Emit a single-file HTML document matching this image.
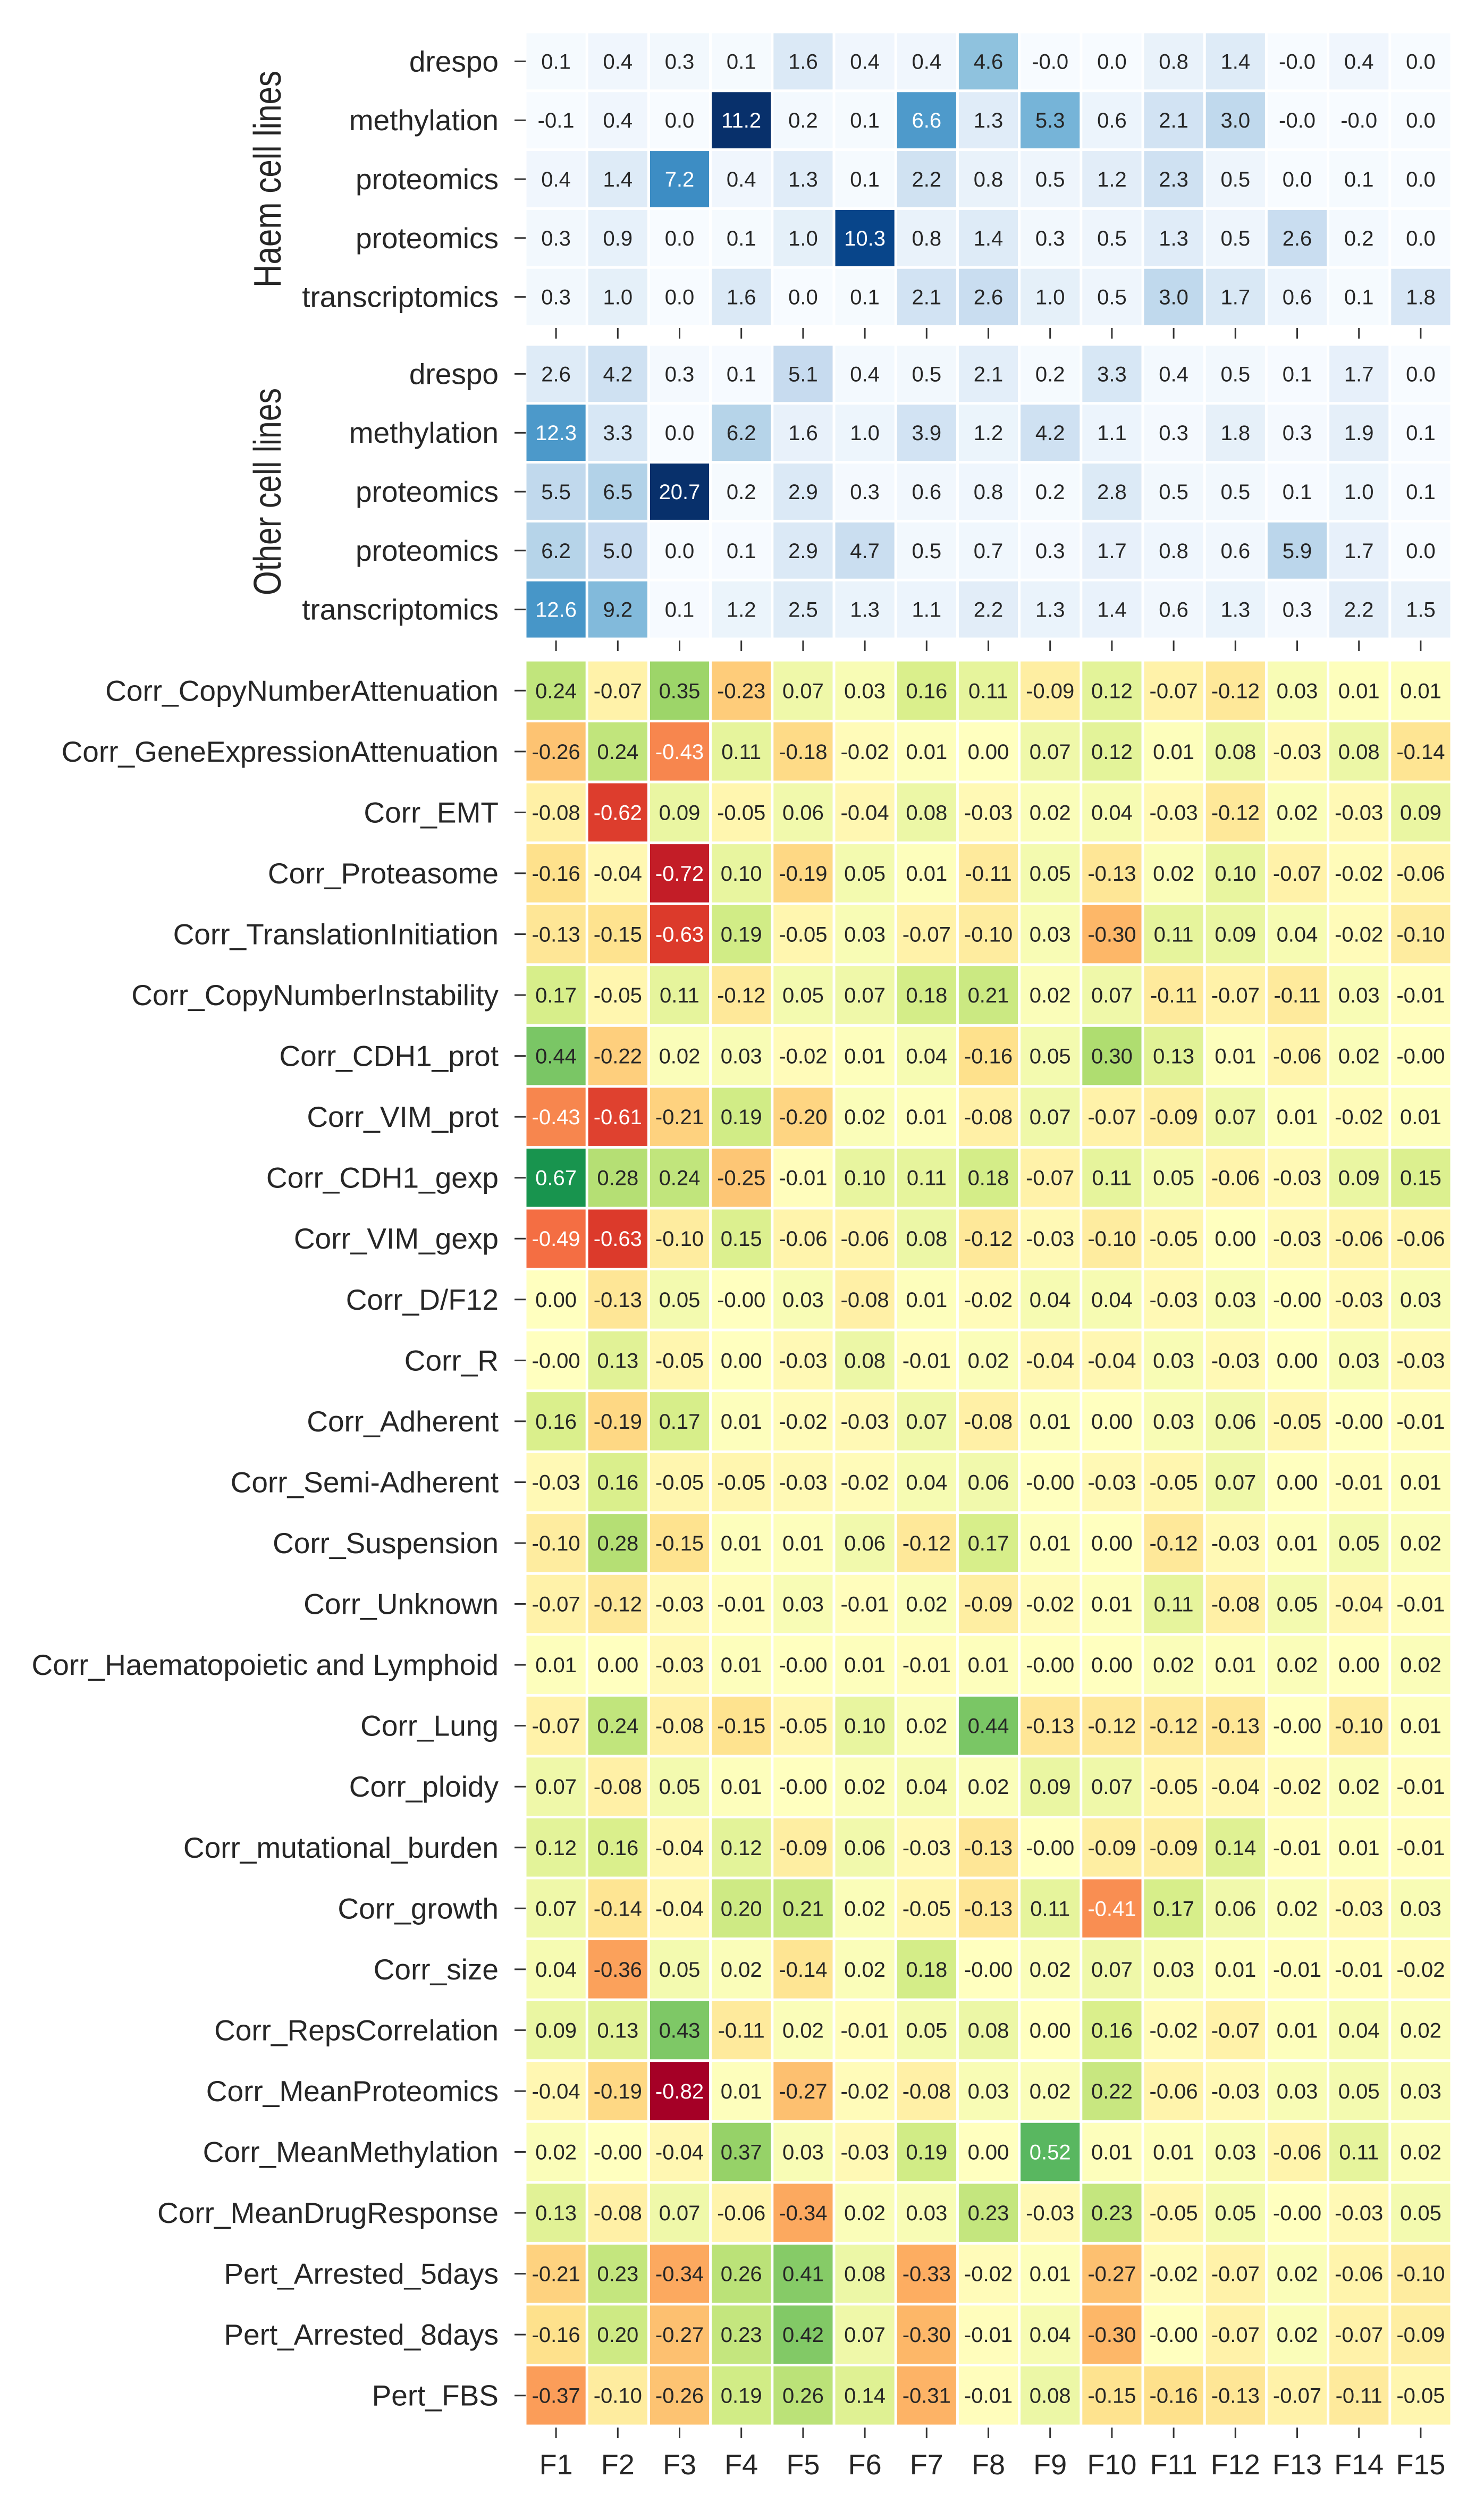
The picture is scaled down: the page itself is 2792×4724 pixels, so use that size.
<!DOCTYPE html>
<html><head><meta charset="utf-8">
<style>
html,body{margin:0;padding:0;background:#fff;}
svg{display:block;font-family:"Liberation Sans",Arial,sans-serif;}
</style></head>
<body>
<svg id="chart" width="2792" height="4724" viewBox="0 0 2792 4724" xmlns="http://www.w3.org/2000/svg">
<rect width="2792" height="4724" fill="#fff"/>
<text transform="translate(528,337) rotate(-90)" text-anchor="middle" font-size="72" fill="#262626" textLength="408" lengthAdjust="spacingAndGlyphs">Haem cell lines</text>
<text transform="translate(528,925) rotate(-90)" text-anchor="middle" font-size="72" fill="#262626" textLength="390" lengthAdjust="spacingAndGlyphs">Other cell lines</text>
<g id="g"></g>
</svg>
<script>
const factors = ["F1","F2","F3","F4","F5","F6","F7","F8","F9","F10","F11","F12","F13","F14","F15"];
const omicsRows = ["drespo","methylation","proteomics","proteomics","transcriptomics"];
const haemValues = [
[0.1,0.4,0.3,0.1,1.6,0.4,0.4,4.6,-0.01,0.0,0.8,1.4,-0.01,0.4,0.0],
[-0.1,0.4,0.0,11.2,0.2,0.1,6.6,1.3,5.3,0.6,2.1,3.0,-0.01,-0.01,0.0],
[0.4,1.4,7.2,0.4,1.3,0.1,2.2,0.8,0.5,1.2,2.3,0.5,0.0,0.1,0.0],
[0.3,0.9,0.0,0.1,1.0,10.3,0.8,1.4,0.3,0.5,1.3,0.5,2.6,0.2,0.0],
[0.3,1.0,0.0,1.6,0.0,0.1,2.1,2.6,1.0,0.5,3.0,1.7,0.6,0.1,1.8]];
const otherValues = [
[2.6,4.2,0.3,0.1,5.1,0.4,0.5,2.1,0.2,3.3,0.4,0.5,0.1,1.7,0.0],
[12.3,3.3,0.0,6.2,1.6,1.0,3.9,1.2,4.2,1.1,0.3,1.8,0.3,1.9,0.1],
[5.5,6.5,20.7,0.2,2.9,0.3,0.6,0.8,0.2,2.8,0.5,0.5,0.1,1.0,0.1],
[6.2,5.0,0.0,0.1,2.9,4.7,0.5,0.7,0.3,1.7,0.8,0.6,5.9,1.7,0.0],
[12.6,9.2,0.1,1.2,2.5,1.3,1.1,2.2,1.3,1.4,0.6,1.3,0.3,2.2,1.5]];
const corrRows = ["Corr_CopyNumberAttenuation","Corr_GeneExpressionAttenuation","Corr_EMT","Corr_Proteasome","Corr_TranslationInitiation","Corr_CopyNumberInstability","Corr_CDH1_prot","Corr_VIM_prot","Corr_CDH1_gexp","Corr_VIM_gexp","Corr_D/F12","Corr_R","Corr_Adherent","Corr_Semi-Adherent","Corr_Suspension","Corr_Unknown","Corr_Haematopoietic and Lymphoid","Corr_Lung","Corr_ploidy","Corr_mutational_burden","Corr_growth","Corr_size","Corr_RepsCorrelation","Corr_MeanProteomics","Corr_MeanMethylation","Corr_MeanDrugResponse","Pert_Arrested_5days","Pert_Arrested_8days","Pert_FBS"];
const corrValues = [
[0.24,-0.07,0.35,-0.23,0.07,0.03,0.16,0.11,-0.09,0.12,-0.07,-0.12,0.03,0.01,0.01],
[-0.26,0.24,-0.43,0.11,-0.18,-0.02,0.01,0.00,0.07,0.12,0.01,0.08,-0.03,0.08,-0.14],
[-0.08,-0.62,0.09,-0.05,0.06,-0.04,0.08,-0.03,0.02,0.04,-0.03,-0.12,0.02,-0.03,0.09],
[-0.16,-0.04,-0.72,0.10,-0.19,0.05,0.01,-0.11,0.05,-0.13,0.02,0.10,-0.07,-0.02,-0.06],
[-0.13,-0.15,-0.63,0.19,-0.05,0.03,-0.07,-0.10,0.03,-0.30,0.11,0.09,0.04,-0.02,-0.10],
[0.17,-0.05,0.11,-0.12,0.05,0.07,0.18,0.21,0.02,0.07,-0.11,-0.07,-0.11,0.03,-0.01],
[0.44,-0.22,0.02,0.03,-0.02,0.01,0.04,-0.16,0.05,0.30,0.13,0.01,-0.06,0.02,-0.001],
[-0.43,-0.61,-0.21,0.19,-0.20,0.02,0.01,-0.08,0.07,-0.07,-0.09,0.07,0.01,-0.02,0.01],
[0.67,0.28,0.24,-0.25,-0.01,0.10,0.11,0.18,-0.07,0.11,0.05,-0.06,-0.03,0.09,0.15],
[-0.49,-0.63,-0.10,0.15,-0.06,-0.06,0.08,-0.12,-0.03,-0.10,-0.05,0.00,-0.03,-0.06,-0.06],
[0.00,-0.13,0.05,-0.001,0.03,-0.08,0.01,-0.02,0.04,0.04,-0.03,0.03,-0.001,-0.03,0.03],
[-0.001,0.13,-0.05,0.00,-0.03,0.08,-0.01,0.02,-0.04,-0.04,0.03,-0.03,0.00,0.03,-0.03],
[0.16,-0.19,0.17,0.01,-0.02,-0.03,0.07,-0.08,0.01,0.00,0.03,0.06,-0.05,-0.001,-0.01],
[-0.03,0.16,-0.05,-0.05,-0.03,-0.02,0.04,0.06,-0.001,-0.03,-0.05,0.07,0.00,-0.01,0.01],
[-0.10,0.28,-0.15,0.01,0.01,0.06,-0.12,0.17,0.01,0.00,-0.12,-0.03,0.01,0.05,0.02],
[-0.07,-0.12,-0.03,-0.01,0.03,-0.01,0.02,-0.09,-0.02,0.01,0.11,-0.08,0.05,-0.04,-0.01],
[0.01,0.00,-0.03,0.01,-0.001,0.01,-0.01,0.01,-0.001,0.00,0.02,0.01,0.02,0.00,0.02],
[-0.07,0.24,-0.08,-0.15,-0.05,0.10,0.02,0.44,-0.13,-0.12,-0.12,-0.13,-0.001,-0.10,0.01],
[0.07,-0.08,0.05,0.01,-0.001,0.02,0.04,0.02,0.09,0.07,-0.05,-0.04,-0.02,0.02,-0.01],
[0.12,0.16,-0.04,0.12,-0.09,0.06,-0.03,-0.13,-0.001,-0.09,-0.09,0.14,-0.01,0.01,-0.01],
[0.07,-0.14,-0.04,0.20,0.21,0.02,-0.05,-0.13,0.11,-0.41,0.17,0.06,0.02,-0.03,0.03],
[0.04,-0.36,0.05,0.02,-0.14,0.02,0.18,-0.001,0.02,0.07,0.03,0.01,-0.01,-0.01,-0.02],
[0.09,0.13,0.43,-0.11,0.02,-0.01,0.05,0.08,0.00,0.16,-0.02,-0.07,0.01,0.04,0.02],
[-0.04,-0.19,-0.82,0.01,-0.27,-0.02,-0.08,0.03,0.02,0.22,-0.06,-0.03,0.03,0.05,0.03],
[0.02,-0.001,-0.04,0.37,0.03,-0.03,0.19,0.00,0.52,0.01,0.01,0.03,-0.06,0.11,0.02],
[0.13,-0.08,0.07,-0.06,-0.34,0.02,0.03,0.23,-0.03,0.23,-0.05,0.05,-0.001,-0.03,0.05],
[-0.21,0.23,-0.34,0.26,0.41,0.08,-0.33,-0.02,0.01,-0.27,-0.02,-0.07,0.02,-0.06,-0.10],
[-0.16,0.20,-0.27,0.23,0.42,0.07,-0.30,-0.01,0.04,-0.30,-0.001,-0.07,0.02,-0.07,-0.09],
[-0.37,-0.10,-0.26,0.19,0.26,0.14,-0.31,-0.01,0.08,-0.15,-0.16,-0.13,-0.07,-0.11,-0.05]];

const BLUES=["#f7fbff","#deebf7","#c6dbef","#9ecae1","#6baed6","#4292c6","#2171b5","#08519c","#08306b"];
const RDYLGN=["#a50026","#d73027","#f46d43","#fdae61","#fee08b","#ffffbf","#d9ef8b","#a6d96a","#66bd63","#1a9850","#006837"];
function hex(h){return [1,3,5].map(i=>parseInt(h.substr(i,2),16));}
function cmap(stops,t){t=Math.max(0,Math.min(1,t));const n=stops.length-1;const i=Math.min(n-1,Math.floor(t*n));const f=t*n-i;const a=hex(stops[i]),b=hex(stops[i+1]);return a.map((v,k)=>Math.round(v+(b[k]-v)*f));}
function lum(c){const l=c.map(v=>{v/=255;return v<=0.03928?v/12.92:Math.pow((v+0.055)/1.055,2.4);});return 0.2126*l[0]+0.7152*l[1]+0.0722*l[2];}
const NS="http://www.w3.org/2000/svg";
const g=document.getElementById('g');
function el(tag,attrs){const e=document.createElementNS(NS,tag);for(const k in attrs)e.setAttribute(k,attrs[k]);g.appendChild(e);return e;}
const X0=988, X1=2731, colW=(X1-X0)/factors.length;
function xScale(i){return X0+i*colW;}
function drawBlock(rows,vals,top,bottom,stops,vmin,vmax,dec,name){
  const rowH=(bottom-top)/rows.length;
  const yScale=r=>top+r*rowH;
  rows.forEach((lab,r)=>{
    const cy=yScale(r)+rowH/2;
    const t=el('text',{x:938,y:cy+19,'text-anchor':'end','font-size':55,fill:'#262626'});
    t.textContent=lab;
    
    
    const tk=el('line',{x1:968,x2:989,y1:cy,y2:cy,stroke:'#333','stroke-width':3});
    
    
    vals[r].forEach((v,c)=>{
      const col=cmap(stops,(v-vmin)/(vmax-vmin));
      const rc=el('rect',{x:xScale(c)+2.5,y:yScale(r)+2.5,width:colW-5,height:rowH-5,fill:'rgb('+col.join(',')+')'});
      
      
      const tx=el('text',{x:xScale(c)+colW/2,y:cy+14,'text-anchor':'middle','font-size':40,fill:lum(col)>0.408?'#262626':'#ffffff'});
      tx.textContent=v.toFixed(dec);
      
      
    });
  });
  factors.forEach((f,c)=>{
    const cx=xScale(c)+colW/2;
    const tk=el('line',{x1:cx,x2:cx,y1:bottom+3,y2:bottom+23,stroke:'#333','stroke-width':3});
    
    
  });
}
const hMax=Math.max(...haemValues.flat()), oMax=Math.max(...otherValues.flat());
const cMax=Math.max(...corrValues.flat().map(Math.abs));
drawBlock(omicsRows,haemValues,60,614,BLUES,0,hMax,1,'haem');
drawBlock(omicsRows,otherValues,648,1202,BLUES,0,oMax,1,'other');
drawBlock(corrRows,corrValues,1242,4564,RDYLGN,-cMax,cMax,2,'corr');
factors.forEach((f,c)=>{
  const t=el('text',{x:xScale(c)+colW/2,y:4655,'text-anchor':'middle','font-size':54,fill:'#262626'});
  t.textContent=f;
  
  
});
</script>
</body></html>
